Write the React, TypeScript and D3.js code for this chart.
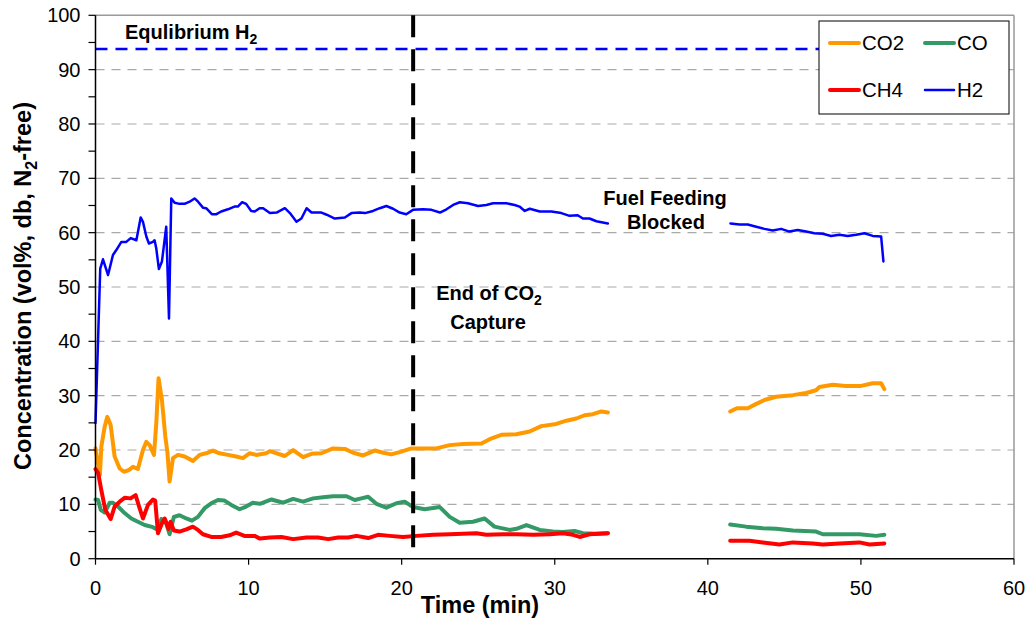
import React from "react";
import * as d3 from "d3";

// ---------- Data ----------
const xTicks = [0, 10, 20, 30, 40, 50, 60];
const yTicks = [0, 10, 20, 30, 40, 50, 60, 70, 80, 90, 100];
const yMinorTicks = [5, 15, 25, 35, 45, 55, 65, 75, 85, 95];
const gridValues = [10, 20, 30, 40, 50, 60, 70, 80, 90];

const equilibriumH2 = 93.8;
const endOfCaptureTime = 20.75;

// H2 (null = no data, fuel feeding blocked)
const h2Time = [0, 0.31, 0.49, 0.82, 1.14, 1.36, 1.69, 2.01, 2.3, 2.67, 2.95, 3.1, 3.32, 3.49, 3.75, 3.86, 3.97, 4.14, 4.34, 4.62, 4.8, 4.95, 5.17, 5.49, 5.82, 6.15, 6.47, 6.7, 7.02, 7.23, 7.6, 7.9, 8.21, 8.65, 9.08, 9.3, 9.58, 9.84, 10.17, 10.4, 10.72, 10.95, 11.39, 11.83, 12.37, 12.7, 13.13, 13.45, 13.79, 14.11, 14.76, 15.1, 15.63, 16.29, 16.72, 17.26, 17.6, 18.13, 18.57, 19.0, 19.44, 19.87, 20.3, 20.74, 21.4, 21.95, 22.5, 22.93, 23.36, 23.8, 24.33, 24.99, 25.53, 25.97, 26.84, 27.38, 27.7, 28.04, 28.37, 29.02, 29.78, 30.43, 30.97, 31.5, 31.84, 32.27, 32.72, 33.47,
  37.5,
  41.48, 42.07, 42.61, 43.16, 43.7, 44.24, 44.79, 45.33, 45.87, 46.42, 46.96, 47.51, 48.05, 48.6, 49.14, 49.69, 50.23, 50.77, 51.32, 51.47];
const h2Values = [25, 53.4, 55.1, 52.2, 55.9, 56.8, 58.3, 58.3, 59.0, 58.6, 62.8, 62.0, 59.3, 58.0, 58.3, 58.6, 57.1, 53.3, 54.7, 61.1, 44.2, 66.3, 65.5, 65.3, 65.3, 65.7, 66.3, 65.7, 64.6, 64.5, 63.4, 63.4, 63.9, 64.3, 64.8, 64.8, 65.6, 65.3, 64.0, 63.9, 64.5, 64.5, 63.6, 63.7, 64.5, 63.6, 62.0, 62.6, 64.5, 63.7, 63.7, 63.3, 62.6, 62.8, 63.6, 63.7, 63.6, 64.0, 64.5, 64.9, 64.4, 63.7, 63.4, 64.2, 64.3, 64.2, 63.7, 64.3, 65.1, 65.6, 65.4, 64.9, 65.1, 65.4, 65.4, 65.1, 64.8, 64.0, 64.4, 63.9, 63.9, 63.6, 63.1, 63.2, 62.6, 62.6, 62.1, 61.7,
  null,
  61.7, 61.5, 61.5, 61.1, 60.7, 60.4, 60.7, 60.2, 60.5, 60.2, 59.9, 59.8, 59.4, 59.6, 59.4, 59.6, 59.9, 59.4, 59.3, 54.7];

// CO2
const co2Time = [0, 0.29, 0.38, 0.6, 0.77, 0.99, 1.25, 1.58, 1.86, 2.17, 2.45, 2.77, 3.1, 3.32, 3.54, 3.82, 3.97, 4.12, 4.34, 4.56, 4.7, 4.84, 5.06, 5.39, 5.82, 6.36, 6.8, 7.23, 7.67, 8.1, 8.65, 9.19, 9.63, 10.06, 10.5, 11.15, 11.39, 12.37, 12.91, 13.56, 14.11, 14.76, 15.52, 16.29, 16.83, 17.48, 18.24, 18.8, 19.33, 19.98, 20.64, 21.4, 22.27, 23.14, 24.01, 25.21, 25.75, 26.51, 27.49, 28.36, 29.12, 30.1, 30.76, 31.41, 31.95, 32.49, 33.04, 33.47,
  37.5,
  41.46, 41.9, 42.61, 43.1, 43.7, 44.46, 45.55, 46.42, 47.07, 47.29, 48.16, 49.0, 50.01, 50.77, 51.32, 51.53];
const co2Values = [20.3, 15.4, 20.6, 24.3, 26.1, 24.6, 18.8, 16.6, 16.0, 16.3, 16.9, 16.5, 20.0, 21.5, 20.9, 19.1, 24.9, 33.2, 29.2, 22.5, 19.5, 14.2, 18.5, 19.1, 18.8, 18.0, 19.1, 19.4, 19.9, 19.4, 19.1, 18.8, 18.5, 19.4, 19.1, 19.4, 19.8, 18.9, 20.0, 18.7, 19.3, 19.4, 20.3, 20.2, 19.5, 19.0, 19.9, 19.5, 19.2, 19.7, 20.3, 20.3, 20.3, 20.9, 21.1, 21.2, 22.0, 22.8, 22.9, 23.4, 24.4, 24.8, 25.4, 25.8, 26.4, 26.6, 27.1, 26.9,
  null,
  27.1, 27.7, 27.7, 28.4, 29.2, 29.8, 30.1, 30.5, 31.0, 31.6, 32.0, 31.8, 31.8, 32.3, 32.3, 31.2];

// CO
const coTime = [0, 0.17, 0.34, 0.6, 0.93, 1.14, 1.47, 1.9, 2.34, 2.77, 3.21, 3.75, 4.08, 4.3, 4.56, 4.84, 5.12, 5.49, 5.93, 6.3, 6.69, 7.13, 7.56, 8.0, 8.43, 8.87, 9.41, 9.84, 10.28, 10.74, 11.5, 12.26, 12.91, 13.56, 14.22, 14.87, 15.52, 16.4, 16.94, 17.37, 17.81, 18.35, 19.0, 19.66, 20.2, 20.74, 21.5, 22.49, 23.14, 23.79, 24.66, 25.42, 26.06, 27.05, 27.5, 28.15, 29.02, 29.88, 30.5, 31.3, 31.84, 32.7, 33.47,
  37.5,
  41.46, 42.5, 43.59, 44.46, 45.55, 47.07, 47.51, 48.6, 49.9, 50.99, 51.53];
const coValues = [10.9, 10.8, 9.0, 8.5, 10.3, 10.3, 9.6, 8.4, 7.4, 6.8, 6.2, 5.8, 5.3, 7.3, 7.0, 4.5, 7.7, 8.0, 7.4, 7.0, 7.7, 9.3, 10.2, 10.8, 10.7, 9.9, 9.1, 9.6, 10.3, 10.1, 10.9, 10.3, 11.0, 10.5, 11.1, 11.3, 11.5, 11.5, 10.8, 11.1, 11.4, 10.1, 9.4, 10.2, 10.5, 9.5, 9.1, 9.5, 7.7, 6.6, 6.8, 7.4, 5.9, 5.3, 5.5, 6.2, 5.3, 5.0, 4.9, 5.1, 4.7, 4.6, 4.7,
  null,
  6.3, 5.9, 5.6, 5.5, 5.2, 5.0, 4.5, 4.5, 4.5, 4.2, 4.4];

// CH4
const ch4Time = [0, 0.17, 0.38, 0.64, 0.99, 1.25, 1.58, 1.9, 2.29, 2.62, 2.88, 3.1, 3.43, 3.75, 3.9, 4.08, 4.34, 4.52, 4.77, 4.9, 5.12, 5.49, 5.93, 6.36, 6.69, 7.02, 7.56, 8.21, 8.76, 9.19, 9.73, 10.39, 10.74, 11.39, 12.15, 12.91, 13.78, 14.54, 15.2, 15.85, 16.5, 17.05, 17.81, 18.46, 19.22, 20.09, 20.96, 22.05, 23.14, 24.01, 24.88, 25.53, 26.62, 27.49, 28.58, 29.67, 30.54, 31.19, 31.63, 32.27, 33.47,
  37.5,
  41.46, 42.72, 43.59, 44.68, 45.55, 46.85, 47.51, 48.6, 49.9, 50.56, 51.53];
const ch4Values = [16.5, 15.8, 12.6, 9.0, 7.3, 9.6, 10.5, 11.2, 11.1, 11.7, 9.3, 7.4, 9.9, 10.9, 10.7, 4.7, 6.5, 7.4, 5.5, 6.8, 5.2, 5.0, 5.4, 5.9, 5.3, 4.5, 4.0, 4.0, 4.3, 4.8, 4.2, 4.2, 3.7, 3.9, 4.0, 3.6, 3.9, 3.9, 3.6, 3.9, 3.9, 4.2, 3.8, 4.4, 4.2, 4.0, 4.2, 4.4, 4.5, 4.6, 4.7, 4.4, 4.5, 4.5, 4.4, 4.5, 4.7, 4.4, 4.0, 4.5, 4.7,
  null,
  3.3, 3.3, 3.0, 2.6, 3.0, 2.8, 2.6, 2.8, 3.0, 2.6, 2.8];

const seriesNames = ["CO2", "CO", "CH4", "H2"];
const seriesColors = ["#FF9900", "#339966", "#FF0000", "#0000FF"];

// ---------- Chart ----------
const W = 1029;
const H = 623;
const FONT = "'Liberation Sans', Arial, sans-serif";

export default function App() {
  const x = d3.scaleLinear().domain([0, 60]).range([95.5, 1014]);
  const y = d3.scaleLinear().domain([0, 100]).range([558.7, 15.3]);

  const line = d3
    .line<[number, number | null]>()
    .defined((d) => d[1] != null)
    .x((d) => x(d[0]))
    .y((d) => y(d[1] as number));

  const zip = (t: number[], v: (number | null)[]) =>
    t.map((ti, i) => [ti, v[i]] as [number, number | null]);

  const series = [
    { name: "CO2", data: zip(co2Time, co2Values), color: seriesColors[0], width: 4 },
    { name: "CO", data: zip(coTime, coValues), color: seriesColors[1], width: 4 },
    { name: "CH4", data: zip(ch4Time, ch4Values), color: seriesColors[2], width: 4 },
    { name: "H2", data: zip(h2Time, h2Values), color: seriesColors[3], width: 2.5 },
  ];

  const x0 = x(0);
  const x1 = x(60);
  const yBot = y(0);
  const yTop = y(100);

  const legendItems = [
    { i: 0, lx: 830, ly: 43 },
    { i: 1, lx: 925, ly: 43 },
    { i: 2, lx: 830, ly: 90 },
    { i: 3, lx: 925, ly: 90 },
  ];

  return (
    <>
      <style>{`body{margin:0}`}</style>
      <svg width={W} height={H} style={{ display: "block", fontFamily: FONT }}>
        <rect x={0} y={0} width={W} height={H} fill="#fff" />
        {/* grid */}
        {gridValues.map((g) => (
          <line key={"g" + g} x1={x0} x2={x1} y1={y(g)} y2={y(g)} stroke="#aaaaaa" strokeWidth={1.2} strokeDasharray="9,7" />
        ))}
        {/* frame top/right */}
        <line x1={x0} x2={x1} y1={yTop} y2={yTop} stroke="#999" strokeWidth={1.5} />
        <line x1={x1} x2={x1} y1={yTop} y2={yBot} stroke="#999" strokeWidth={1.5} />

        {/* equilibrium line */}
        <line x1={x0} x2={x1} y1={y(equilibriumH2)} y2={y(equilibriumH2)} stroke="#0000FF" strokeWidth={2.5} strokeDasharray="12,8" />

        {/* series */}
        {series.map((s) => (
          <path key={s.name} d={line(s.data) || ""} fill="none" stroke={s.color} strokeWidth={s.width} strokeLinejoin="round" strokeLinecap="round" />
        ))}

        {/* end of capture */}
        <line x1={x(endOfCaptureTime)} x2={x(endOfCaptureTime)} y1={yTop} y2={yBot} stroke="#000" strokeWidth={4} strokeDasharray="22,12" />

        {/* axes */}
        <line x1={x0} x2={x0} y1={yTop} y2={yBot} stroke="#000" strokeWidth={1.5} />
        <line x1={x0} x2={x1} y1={yBot} y2={yBot} stroke="#000" strokeWidth={1.5} />
        {yTicks.map((t) => (
          <g key={"yt" + t}>
            <line x1={x0 - 7} x2={x0} y1={y(t)} y2={y(t)} stroke="#000" strokeWidth={1.2} />
            <text x={x0 - 15} y={y(t)} dy="0.35em" textAnchor="end" fontSize={20} fill="#000">{t}</text>
          </g>
        ))}
        {yMinorTicks.map((t) => (
          <line key={"ym" + t} x1={x0 - 7} x2={x0} y1={y(t)} y2={y(t)} stroke="#000" strokeWidth={1.2} />
        ))}
        {xTicks.map((t) => (
          <g key={"xt" + t}>
            <line x1={x(t)} x2={x(t)} y1={yBot} y2={yBot + 6} stroke="#000" strokeWidth={1.2} />
            <text x={x(t)} y={595} textAnchor="middle" fontSize={20} fill="#000">{t}</text>
          </g>
        ))}

        {/* axis titles */}
        <text x={480} y={613} textAnchor="middle" fontSize={23.5} fontWeight="bold">Time (min)</text>
        <text transform={`translate(31,286) rotate(-90)`} textAnchor="middle" fontSize={23.5} fontWeight="bold">
          Concentration (vol%, db, N<tspan fontSize={16} dy={6}>2</tspan><tspan dy={-6}>-free)</tspan>
        </text>

        {/* annotations */}
        <text x={125} y={39} fontSize={20} fontWeight="bold">
          Equlibrium H<tspan fontSize={14} dy={5}>2</tspan>
        </text>
        <text x={489} y={300} textAnchor="middle" fontSize={20} fontWeight="bold">
          End of CO<tspan fontSize={14} dy={5}>2</tspan>
        </text>
        <text x={488} y={329} textAnchor="middle" fontSize={20} fontWeight="bold">Capture</text>
        <text x={665} y={205} textAnchor="middle" fontSize={20} fontWeight="bold">Fuel Feeding</text>
        <text x={666} y={229} textAnchor="middle" fontSize={20} fontWeight="bold">Blocked</text>

        {/* legend */}
        <rect x={819} y={21} width={190} height={93} fill="#fff" stroke="#000" strokeWidth={1} />
        {legendItems.map(({ i, lx, ly }) => (
          <g key={"lg" + i}>
            <line x1={lx} x2={lx + 29} y1={ly} y2={ly} stroke={seriesColors[i]} strokeWidth={i === 3 ? 2.5 : 4} strokeLinecap="round" />
            <text x={lx + 32} y={ly} dy="0.36em" fontSize={20.5}>{seriesNames[i]}</text>
          </g>
        ))}
      </svg>
    </>
  );
}
